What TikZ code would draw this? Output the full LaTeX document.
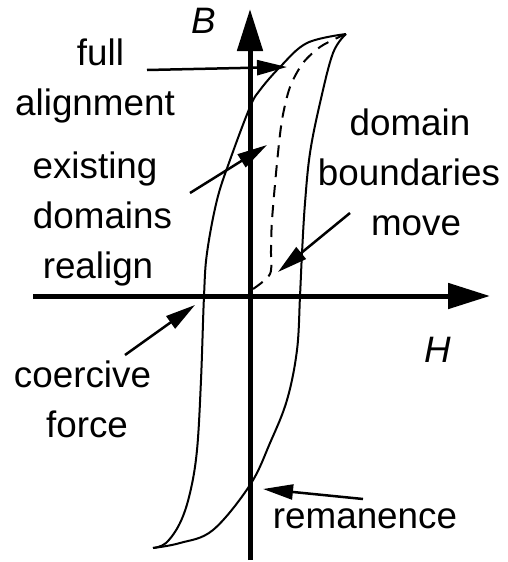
\documentclass[tikz,border=0pt]{standalone}
\usepackage{fontspec}
\setmainfont{Liberation Sans}
\usetikzlibrary{arrows.meta}
\tikzset{
  lbl/.style={anchor=base,inner sep=0pt,font=\fontsize{36.8}{44}\selectfont},
  axislbl/.style={anchor=base,inner sep=0pt,font=\fontsize{36.8}{44}\selectfont\itshape},
  axisline/.style={line width=5pt,-{Triangle[length=42pt,width=25pt]}},
  curve/.style={line width=2pt,line join=round},
  dashcurve/.style={line width=2pt,dash pattern=on 12pt off 8pt},
  pointer/.style={line width=2.5pt,-{Triangle[length=30pt,width=15pt]}}
}
\begin{document}
\begin{tikzpicture}[x=1pt,y=-1pt]
\useasboundingbox (0,0) rectangle (508,562);
% axes
\coordinate (vbot) at (250,560);
\coordinate (vtop) at (250,9);
\coordinate (hleft) at (33,296);
\coordinate (hright) at (490,296);
\draw[axisline] (vbot) -- (vtop);
\draw[axisline] (hleft) -- (hright);
\node[axislbl] (B) at (204,33) {B};
\node[axislbl] (H) at (438,362) {H};
% hysteresis loop
\draw[curve] plot[smooth,tension=0.6] coordinates {(346,34) (307,43) (280,67) (260,90) (250,107) (230,160) (217,200) (207,253) (204,296) (201,380) (197,450) (190,493) (180,523) (166,543) (153,548)};
\draw[curve] plot[smooth,tension=0.6] coordinates {(153,548) (180,543) (213,530) (250,485) (270,443) (287,400) (297,350) (300,296) (302,253) (305,203) (310,153) (320,103) (333,53) (346,34)};
% initial magnetisation curve
\draw[dashcurve] plot[smooth,tension=0.5] coordinates {(253,289) (270,274) (271,250) (272,220) (277,163) (282,120) (290,87) (303,63) (320,47) (337,38) (346,34)};
% labels
\node[lbl] (full) at (100.5,65) {full};
\node[lbl] (align) at (95,115) {alignment};
\node[lbl] (exist) at (95,178) {existing};
\node[lbl] (doms) at (102.5,228) {domains};
\node[lbl] (realign) at (98,278) {realign};
\node[lbl] (domain) at (410,135) {domain};
\node[lbl] (bound) at (409,185) {boundaries};
\node[lbl] (move) at (416,235) {move};
\node[lbl] (coer) at (82.5,387) {coercive};
\node[lbl] (force) at (87,437) {force};
\node[lbl] (rem) at (365,528) {remanence};
% pointer arrows
\coordinate (fa1) at (147,70);  \coordinate (fa2) at (287,67);
\coordinate (ex1) at (190,193); \coordinate (ex2) at (267,145);
\coordinate (db1) at (350,213); \coordinate (db2) at (278,272);
\coordinate (cf1) at (125,355); \coordinate (cf2) at (195,305);
\coordinate (re1) at (363,499); \coordinate (re2) at (263,489);
\draw[pointer] (fa1) -- (fa2);
\draw[pointer] (ex1) -- (ex2);
\draw[pointer] (db1) -- (db2);
\draw[pointer] (cf1) -- (cf2);
\draw[pointer] (re1) -- (re2);
\end{tikzpicture}
\end{document}
